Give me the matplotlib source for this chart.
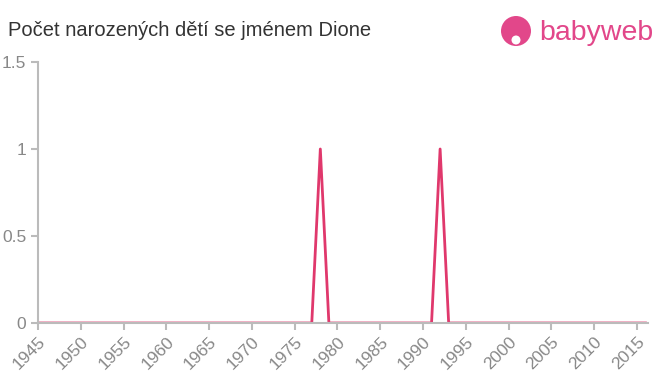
import numpy as np
import matplotlib
matplotlib.use("Agg")
import matplotlib.pyplot as plt
from matplotlib.patches import Ellipse

years = list(range(1945, 2017))
counts = [0] * len(years)
peak_years = [1978, 1992]
peak_counts = [1, 1]
for y, c in zip(peak_years, peak_counts):
    counts[years.index(y)] = c

title = "Počet narozených dětí se jménem Dione"
xticks = list(range(1945, 2016, 5))
yticks = [0, 0.5, 1, 1.5]
yticklabels = ["0", "0.5", "1", "1.5"]

plt.rcParams["font.family"] = ["Liberation Sans", "DejaVu Sans"]

W, H = 660, 375
fig = plt.figure(figsize=(6.6, 3.75), dpi=100)
ax = fig.add_axes([38 / W, 52 / H, 610 / W, 261 / H])

ax.plot(years, counts, color="#e0386c", lw=2)
ax.set_xlim(1945, 2016.3)
ax.set_ylim(0, 1.5)
ax.set_xticks(xticks)
ax.set_xticklabels([str(x) for x in xticks], rotation=45, ha="right",
                   rotation_mode="anchor")
ax.set_yticks(yticks)
ax.set_yticklabels(yticklabels)
ax.tick_params(colors="#bbbbbb", labelcolor="#888888", labelsize=12.5,
               length=5, width=1.5)
ax.tick_params(axis="x", pad=3)
for s in ["top", "right"]:
    ax.spines[s].set_visible(False)
for s in ["left", "bottom"]:
    ax.spines[s].set_color("#bbbbbb")
    ax.spines[s].set_linewidth(1.5)

fig.text(8 / W, 1 - 31 / H, title, fontsize=14.5, color="#333333",
         va="center", ha="left")

# logo
pink = "#e2478a"
fig.patches.append(Ellipse((516 / W, 1 - 31 / H), 30 / W, 30 / H,
                           transform=fig.transFigure, color=pink, ec="none"))
fig.patches.append(Ellipse((516 / W, 1 - 40 / H), 9 / W, 9 / H,
                           transform=fig.transFigure, color="white", ec="none"))
fig.text(539 / W, 1 - 33 / H, "babyweb", fontsize=20.5, color=pink,
         va="center", ha="left")

fig.savefig("out.png", dpi=100)
